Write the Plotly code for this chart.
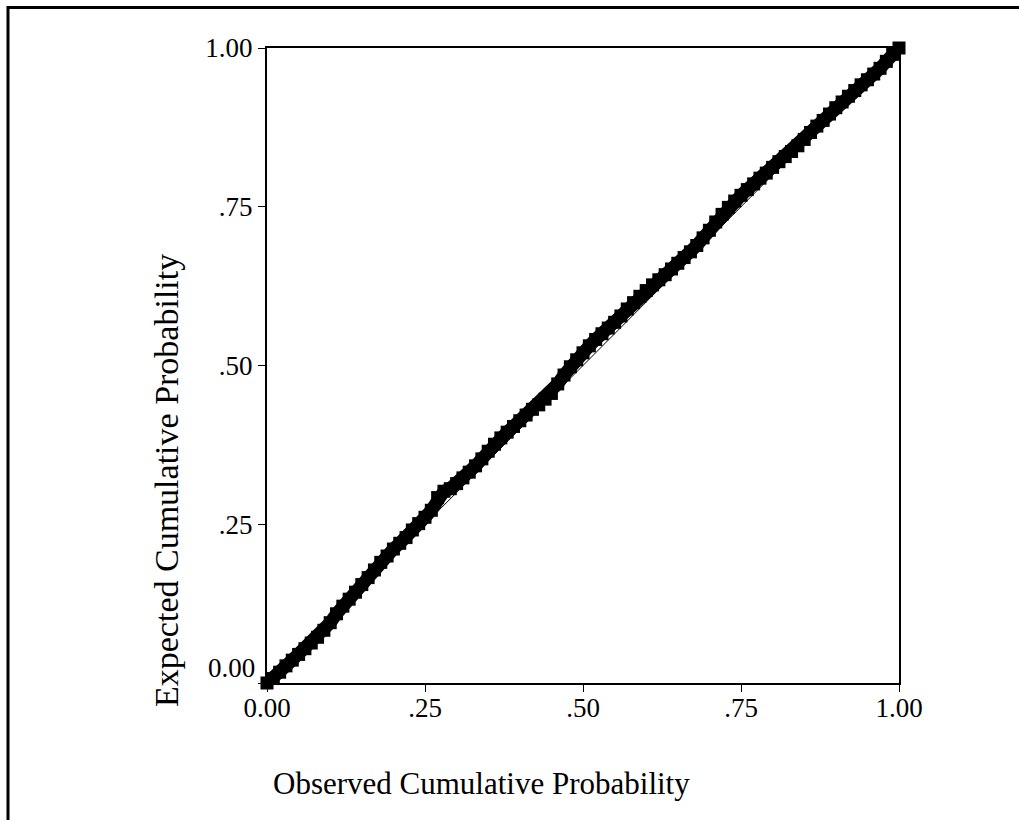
import plotly.graph_objects as go

observed = [0.00, 0.01, 0.02, 0.03, 0.04, 0.05, 0.06, 0.07, 0.08, 0.09,
            0.10, 0.11, 0.12, 0.13, 0.14, 0.15, 0.16, 0.17, 0.18, 0.19,
            0.20, 0.21, 0.22, 0.23, 0.24, 0.25, 0.26, 0.27, 0.28, 0.29,
            0.30, 0.31, 0.32, 0.33, 0.34, 0.35, 0.36, 0.37, 0.38, 0.39,
            0.40, 0.41, 0.42, 0.43, 0.44, 0.45, 0.46, 0.47, 0.48, 0.49,
            0.50, 0.51, 0.52, 0.53, 0.54, 0.55, 0.56, 0.57, 0.58, 0.59,
            0.60, 0.61, 0.62, 0.63, 0.64, 0.65, 0.66, 0.67, 0.68, 0.69,
            0.70, 0.71, 0.72, 0.73, 0.74, 0.75, 0.76, 0.77, 0.78, 0.79,
            0.80, 0.81, 0.82, 0.83, 0.84, 0.85, 0.86, 0.87, 0.88, 0.89,
            0.90, 0.91, 0.92, 0.93, 0.94, 0.95, 0.96, 0.97, 0.98, 0.99, 1.00]
expected = [0.000, 0.007, 0.017, 0.027, 0.036, 0.045, 0.054, 0.063, 0.072, 0.083,
            0.095, 0.109, 0.121, 0.132, 0.143, 0.155, 0.166, 0.178, 0.190, 0.200,
            0.211, 0.220, 0.229, 0.241, 0.251, 0.261, 0.272, 0.292, 0.302, 0.306,
            0.314, 0.323, 0.332, 0.342, 0.353, 0.365, 0.376, 0.386, 0.395, 0.404,
            0.413, 0.422, 0.431, 0.438, 0.447, 0.456, 0.471, 0.485, 0.498, 0.509,
            0.520, 0.531, 0.541, 0.550, 0.559, 0.568, 0.578, 0.589, 0.599, 0.609,
            0.618, 0.627, 0.635, 0.643, 0.652, 0.661, 0.670, 0.679, 0.689, 0.701,
            0.713, 0.726, 0.738, 0.749, 0.759, 0.768, 0.777, 0.786, 0.795, 0.803,
            0.812, 0.821, 0.829, 0.837, 0.846, 0.856, 0.867, 0.877, 0.886, 0.896,
            0.906, 0.915, 0.924, 0.933, 0.942, 0.950, 0.959, 0.968, 0.979, 0.990, 1.000]
ref_line = [0.0, 1.0]
tick_vals = [0.0, 0.25, 0.5, 0.75, 1.0]
tick_text = ["0.00", ".25", ".50", ".75", "1.00"]

W, H = 1019, 820
L, R, T, B = 267, 899, 48, 683
pw, ph = R - L, B - T

def px(x):
    return (x - L) / pw

def py(y):
    return (B - y) / ph

FONT = "Liberation Serif"
TICK_SIZE = 27

fig = go.Figure()
fig.add_trace(go.Scatter(x=ref_line, y=ref_line, mode="lines",
                         line=dict(color="black", width=1), hoverinfo="skip"))
fig.add_trace(go.Scatter(x=observed, y=expected, mode="markers+lines",
                         line=dict(color="black", width=13),
                         marker=dict(symbol="square", size=13, color="black"),
                         cliponaxis=False))

axis_common = dict(range=[0, 1], showgrid=False, zeroline=False, showline=True,
                   linecolor="black", linewidth=2, mirror=True,
                   ticks="outside", ticklen=7, tickwidth=1, tickcolor="black",
                   tickvals=tick_vals,
                   tickfont=dict(family=FONT, size=TICK_SIZE, color="black"))

# the y-axis "0.00" label sits a little above its tick in the reference
y_ticktext = [""] + tick_text[1:]

fig.update_layout(
    width=W, height=H,
    margin=dict(l=L, r=W - R, t=T, b=H - B, pad=0),
    paper_bgcolor="white", plot_bgcolor="white",
    showlegend=False,
    xaxis=dict(**axis_common, ticktext=tick_text, ticklabelstandoff=-7),
    yaxis=dict(**axis_common, ticktext=y_ticktext),
    annotations=[
        dict(text=tick_text[0], x=0, y=py(668), xref="paper", yref="paper",
             showarrow=False, xanchor="right", yanchor="middle", xshift=-10,
             font=dict(family=FONT, size=TICK_SIZE, color="black")),
        dict(text="Observed Cumulative Probability", x=px(481), y=py(783),
             xref="paper", yref="paper", showarrow=False,
             xanchor="center", yanchor="middle",
             font=dict(family=FONT, size=31, color="black")),
        dict(text="Expected Cumulative Probability", x=px(166), y=py(481),
             xref="paper", yref="paper", showarrow=False, textangle=-90,
             xanchor="center", yanchor="middle",
             font=dict(family=FONT, size=34, color="black")),
    ],
    shapes=[
        dict(type="line", xref="paper", yref="paper",
             x0=px(8), x1=px(W + 2), y0=py(7.5), y1=py(7.5),
             line=dict(color="black", width=3)),
        dict(type="line", xref="paper", yref="paper",
             x0=px(8), x1=px(8), y0=py(6), y1=py(H + 2),
             line=dict(color="black", width=3)),
    ],
)

fig.write_html("out.html")
